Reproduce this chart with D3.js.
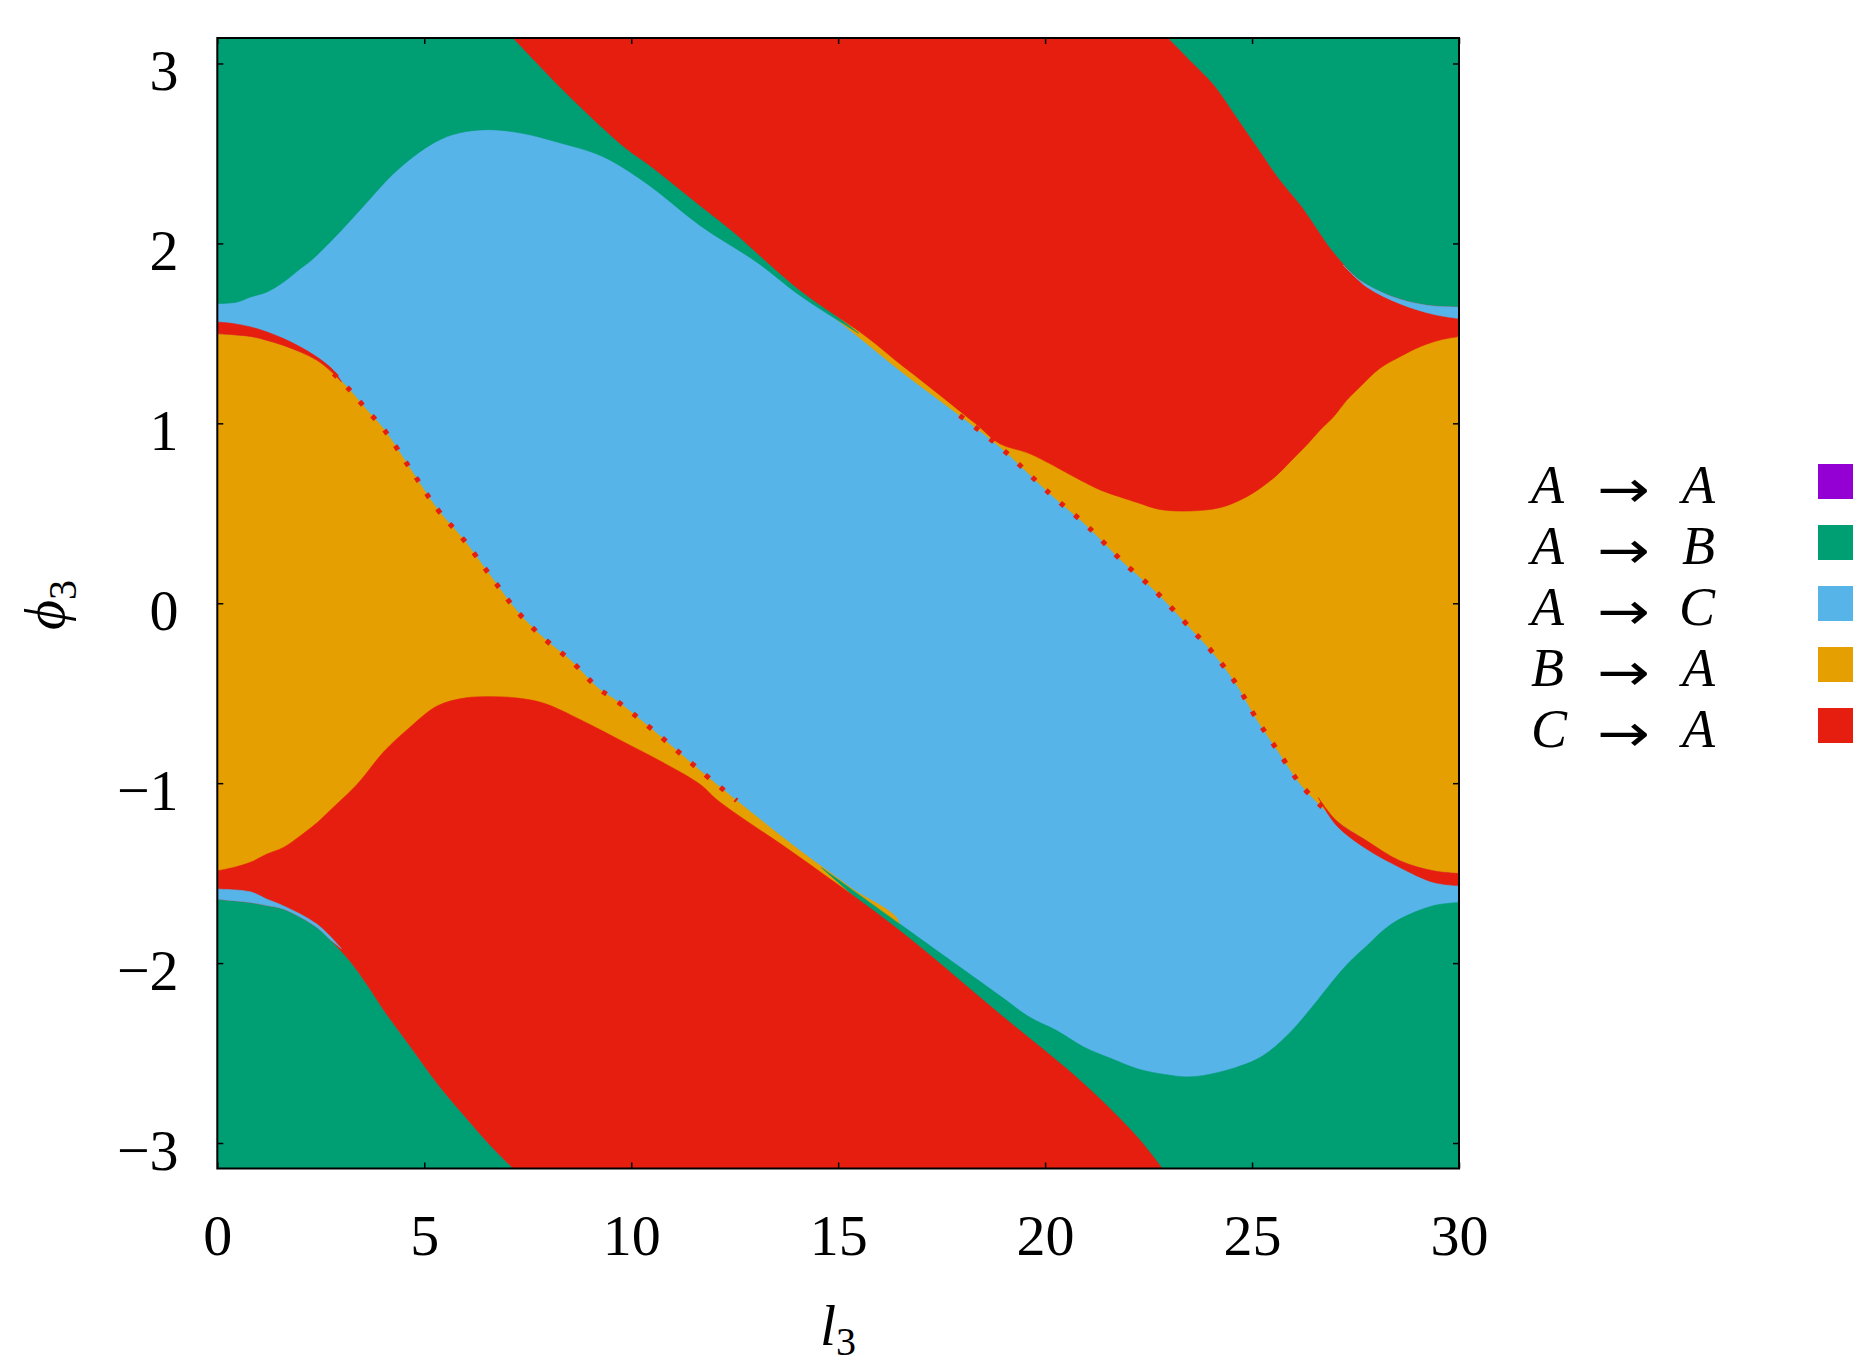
<!DOCTYPE html>
<html>
<head>
<meta charset="utf-8">
<script src="https://cdn.jsdelivr.net/npm/d3@7"></script>
<style>
  html, body { margin: 0; padding: 0; background: #ffffff; }
  svg { display: block; }
  text { font-family: "Liberation Serif", "DejaVu Serif", serif; fill: #000; }
</style>
</head>
<body>
<svg id="chart" width="1872" height="1372"></svg>
<script>
const PI = Math.PI;

// ---- tick values ----
const xTicks = [0, 5, 10, 15, 20, 25, 30];
const yTicks = [-3, -2, -1, 0, 1, 2, 3];

// ---- categories (legend) ----
const categoryFrom = ["A", "A", "A", "B", "C"];
const categoryTo   = ["A", "B", "C", "A", "A"];
const categoryColors = ["#9400D3", "#009E73", "#56B4E9", "#E69F00", "#E51E10"];

// ---- regions, as [l3, phi3] outlines ----
// A -> C : whole domain as the base layer
const regionAC = [[0, -PI], [30, -PI], [30, PI], [0, PI]];

// B -> A : left lobe
const regionBA_left = [
  [0, 1.498], [0.8, 1.483], [1.2, 1.461], [1.6, 1.433], [2.01, 1.396], [2.41, 1.35],
  [2.81, 1.276], [3.21, 1.183], [3.62, 1.072], [4.02, 0.968], [4.67, 0.745], [5.32, 0.522],
  [5.97, 0.348], [6.61, 0.149], [7.26, -0.049], [7.91, -0.199], [8.56, -0.323], [9.2, -0.472],
  [9.64, -0.541], [10.5, -0.70], [11.66, -0.929], [12.55, -1.097], [14.08, -1.375],
  [15.3, -1.58], [16.49, -1.80], [10, -2.5], [0, -1.55]
];

// B -> A : right lobe
const regionBA_right = [
  [30, -1.502], [29.38, -1.487], [28.57, -1.431], [27.77, -1.32], [27.04, -1.209],
  [26.69, -1.133], [26.17, -1.006], [25.64, -0.826], [25.12, -0.647], [24.6, -0.442],
  [24.01, -0.263], [23.55, -0.149], [22.63, 0.075], [21.85, 0.236], [21.33, 0.358],
  [20.93, 0.447], [20.12, 0.608], [18.91, 0.868], [17.9, 1.05], [16.49, 1.294],
  [15.6, 1.46], [14.3, 1.70], [16.5, 1.52], [22, 1.6], [30, 1.55]
];

// A -> B : four corners
const regionAB_TL = [
  [0, PI], [7.15, PI], [8.45, 2.85], [11.66, 2.23], [14.08, 1.76], [15.5, 1.5],
  [14.08, 1.71], [13.07, 1.89], [11.66, 2.10], [10.39, 2.33], [9.31, 2.483], [8.23, 2.562],
  [7.37, 2.612], [6.61, 2.632], [5.97, 2.62], [5.43, 2.582], [4.89, 2.508], [4.24, 2.384],
  [3.59, 2.222], [2.95, 2.061], [2.3, 1.912], [2.01, 1.86], [1.6, 1.785], [1.2, 1.73],
  [0.8, 1.702], [0.48, 1.674], [0, 1.665]
];
const regionAB_TR = [
  [22.96, PI], [30, PI], [30, 1.646], [29.22, 1.656], [28.41, 1.702], [27.61, 1.794],
  [26.92, 1.962], [26.69, 2.036], [26.17, 2.21], [25.64, 2.359], [25.12, 2.533],
  [24.6, 2.707], [24.07, 2.88], [23.55, 3.004]
];
const regionAB_BL = [
  [0, -PI], [7.15, -PI], [6.61, -3.016], [5.97, -2.849], [5.32, -2.67], [4.67, -2.465],
  [4.02, -2.26], [3.62, -2.12], [3.21, -1.99], [2.73, -1.87], [2.41, -1.802], [1.6, -1.70],
  [1.2, -1.68], [0.8, -1.663], [0, -1.645]
];
const regionAB_BR = [
  [22.83, -PI], [30, -PI], [30, -1.663], [29.38, -1.681], [28.57, -1.755], [28.16, -1.82],
  [27.77, -1.905], [27.37, -1.99], [27.04, -2.075], [26.43, -2.25], [25.91, -2.388],
  [25.25, -2.517], [24.6, -2.581], [23.55, -2.632], [22.89, -2.619], [22.24, -2.588],
  [21.58, -2.529], [20.93, -2.466], [20.28, -2.375], [19.62, -2.30], [18.91, -2.182],
  [16.49, -1.783], [14.6, -1.47]
];

// C -> A : upper and lower bands
const regionCA_top = [
  [7.15, PI], [22.96, PI], [23.55, 3.004], [24.07, 2.88], [24.6, 2.707], [25.12, 2.533],
  [25.64, 2.359], [26.17, 2.21], [26.69, 2.036], [26.92, 1.962], [27.61, 1.794],
  [28.41, 1.702], [29.22, 1.656], [30, 1.646], [30, 1.482], [29.54, 1.463], [29.06, 1.426],
  [28.57, 1.37], [28.09, 1.306], [27.61, 1.203], [27.29, 1.129], [26.97, 1.036],
  [26.64, 0.962], [26.32, 0.879], [26.0, 0.805], [25.6, 0.712], [25.19, 0.638],
  [24.79, 0.582], [24.24, 0.532], [23.52, 0.513], [22.78, 0.521], [22.24, 0.559],
  [21.33, 0.63], [20.93, 0.675], [19.62, 0.832], [18.91, 0.886], [18.31, 1.0], [17.0, 1.24],
  [16.49, 1.331], [15.69, 1.48], [14.08, 1.739], [12.42, 2.073], [11.66, 2.211],
  [10.45, 2.433], [9.85, 2.533], [8.45, 2.831]
];
const regionCA_bottom = [
  [7.15, -PI], [22.83, -PI], [22.24, -2.97], [20.93, -2.67], [18.91, -2.284], [16.49, -1.82],
  [14.08, -1.413], [12.10, -1.097], [11.66, -1.006], [10.71, -0.878], [9.85, -0.775],
  [8.77, -0.647], [7.91, -0.557], [7.26, -0.527], [6.61, -0.519], [5.97, -0.527],
  [5.32, -0.570], [4.67, -0.686], [4.02, -0.826], [3.38, -1.006], [2.73, -1.15],
  [2.41, -1.22], [2.01, -1.292], [1.6, -1.357], [1.2, -1.394], [0.8, -1.44], [0.4, -1.468],
  [0, -1.487], [0, -1.645], [0.8, -1.663], [1.2, -1.68], [1.6, -1.70], [2.41, -1.802],
  [2.73, -1.87], [3.21, -1.99], [3.62, -2.12], [4.02, -2.26], [4.67, -2.465], [5.32, -2.67],
  [5.97, -2.849], [6.61, -3.016]
];

// thin slivers near the side edges
const sliverAC_TR = [
  [27.2, 1.88], [27.61, 1.794], [28.41, 1.702], [29.22, 1.656], [30, 1.646],
  [30, 1.582], [29.38, 1.606], [28.57, 1.665], [27.77, 1.758]
];
const sliverAC_BL = [
  [0, -1.589], [0.8, -1.604], [1.2, -1.645], [1.6, -1.682], [2.41, -1.784], [3.0, -1.92],
  [2.73, -1.87], [2.41, -1.802], [1.6, -1.70], [1.2, -1.68], [0.8, -1.663], [0, -1.645]
];
const sliverCA_TL = [
  [0, 1.563], [0.4, 1.554], [0.8, 1.536], [1.2, 1.508], [1.6, 1.471], [2.01, 1.424],
  [2.41, 1.368], [2.81, 1.294], [3.0, 1.23], [2.81, 1.276], [2.41, 1.35], [2.01, 1.396],
  [1.6, 1.433], [1.2, 1.461], [0.8, 1.483], [0, 1.498]
];
const sliverCA_BR = [
  [26.6, -1.08], [27.04, -1.209], [27.77, -1.32], [28.57, -1.431], [29.38, -1.487],
  [30, -1.502], [30, -1.570], [29.38, -1.551], [28.57, -1.468], [27.77, -1.366], [27.04, -1.235]
];

// ---- drawing ----
const svg = d3.select("#chart");
svg.append("rect").attr("width", 1872).attr("height", 1372).attr("fill", "#fff");

const x = d3.scaleLinear().domain([0, 30]).range([217.3, 1459]);
const y = d3.scaleLinear().domain([-PI, PI]).range([1168.5, 38]);

svg.append("defs").append("clipPath").attr("id", "plotclip")
  .append("rect")
  .attr("x", x(0)).attr("y", y(PI))
  .attr("width", x(30) - x(0)).attr("height", y(-PI) - y(PI));

const plot = svg.append("g").attr("clip-path", "url(#plotclip)");
const curveGen = d3.line().curve(d3.curveCatmullRom.alpha(0.5));
const lineStraight = d3.line().x(d => x(d[0])).y(d => y(d[1]));

const cAA = categoryColors[0], cAB = categoryColors[1], cAC = categoryColors[2],
      cBA = categoryColors[3], cCA = categoryColors[4];

// outline: smooth between corners, straight along the frame
function outlinePath(pts) {
  const P = pts.map(d => [x(d[0]), y(d[1])]);
  const n = P.length;
  const onFrame = i => {
    const d = pts[i];
    return Math.abs(d[0]) < 1e-9 || Math.abs(d[0] - 30) < 1e-9 || Math.abs(Math.abs(d[1]) - PI) < 1e-9;
  };
  const sharp = i => {
    const a = P[(i - 1 + n) % n], b = P[i], c = P[(i + 1) % n];
    const v1 = [b[0] - a[0], b[1] - a[1]], v2 = [c[0] - b[0], c[1] - b[1]];
    const cs = (v1[0] * v2[0] + v1[1] * v2[1]) / (Math.hypot(v1[0], v1[1]) * Math.hypot(v2[0], v2[1]));
    return cs < -0.5;
  };
  const corner = i => onFrame(i) || sharp(i);
  let start = -1;
  for (let i = 0; i < n; i++) if (corner(i)) { start = i; break; }
  if (start < 0) return d3.line().curve(d3.curveCatmullRomClosed.alpha(0.5))(P);
  let d = `M${P[start][0]},${P[start][1]}`;
  let run = [P[start]];
  for (let k = 1; k <= n; k++) {
    const i = (start + k) % n;
    run.push(P[i]);
    if (corner(i)) {
      if (run.length === 2) d += `L${P[i][0]},${P[i][1]}`;
      else d += curveGen(run).replace(/^M[^LC]*/, "");
      run = [P[i]];
    }
  }
  return d + "Z";
}

function region(pts, color) {
  plot.append("path")
    .attr("d", outlinePath(pts))
    .attr("fill", color)
    .attr("stroke", color)
    .attr("stroke-width", 0.6)
    .attr("stroke-linejoin", "round");
}

plot.append("path").attr("d", lineStraight(regionAC) + "Z").attr("fill", cAC);
region(regionBA_left, cBA);
region(regionBA_right, cBA);
region(regionAB_TL, cAB);
region(regionAB_TR, cAB);
region(regionAB_BL, cAB);
region(regionAB_BR, cAB);
region(regionCA_top, cCA);
region(regionCA_bottom, cCA);
region(sliverAC_TR, cAC);
region(sliverAC_BL, cAC);
region(sliverCA_TL, cCA);
region(sliverCA_BR, cCA);

// speckled C->A cells along the B->A / A->C borders
const dottedLeft = regionBA_left.filter(d => d[0] >= 2.8 && d[0] <= 12.6 && d[1] > -1.2);
const dottedRight = regionBA_right.filter(d => d[0] >= 17.5 && d[0] <= 27 && d[1] < 1.2);
[dottedLeft, dottedRight].forEach(pts => {
  plot.append("path")
    .attr("d", curveGen(pts.map(d => [x(d[0]), y(d[1])])))
    .attr("fill", "none")
    .attr("stroke", cCA)
    .attr("stroke-width", 5)
    .attr("stroke-dasharray", "5 14");
});

// ---- axes ----
const fontSize = 58;
const axB = svg.append("g").attr("transform", `translate(0,${y(-PI)})`)
  .call(d3.axisBottom(x).tickValues(xTicks).tickSize(-6).tickFormat(d3.format("d")));
axB.select(".domain").remove();
axB.selectAll("text").attr("y", 66.5).attr("dy", "0.35em")
  .style("font-size", fontSize + "px").style("font-family", "'Liberation Serif', serif");

const axL = svg.append("g").attr("transform", `translate(${x(0)},0)`)
  .call(d3.axisLeft(y).tickValues(yTicks).tickSize(-6).tickFormat(d3.format("d")));
axL.select(".domain").remove();
axL.selectAll("text").attr("x", -38.7).attr("dy", "0.45em")
  .style("font-size", fontSize + "px").style("font-family", "'Liberation Serif', serif");

const axT = svg.append("g").attr("transform", `translate(0,${y(PI)})`)
  .call(d3.axisTop(x).tickValues(xTicks).tickSize(-6).tickFormat(""));
axT.select(".domain").remove();
const axR = svg.append("g").attr("transform", `translate(${x(30)},0)`)
  .call(d3.axisRight(y).tickValues(yTicks).tickSize(-6).tickFormat(""));
axR.select(".domain").remove();
svg.selectAll(".tick line").attr("stroke", "#000").attr("stroke-width", 1.5);

// frame
svg.append("rect")
  .attr("x", x(0)).attr("y", y(PI))
  .attr("width", x(30) - x(0)).attr("height", y(-PI) - y(PI))
  .attr("fill", "none").attr("stroke", "#000").attr("stroke-width", 2);

// axis titles
const yt = svg.append("text")
  .attr("transform", "translate(64,605) rotate(-90)")
  .attr("text-anchor", "middle")
  .style("font-size", fontSize + "px");
yt.append("tspan").style("font-style", "italic").text("\u03D5");
yt.append("tspan").attr("dy", "0.3em").style("font-size", "40px").text("3");

const xt = svg.append("text")
  .attr("x", 838).attr("y", 1345)
  .attr("text-anchor", "middle")
  .style("font-size", fontSize + "px");
xt.append("tspan").style("font-style", "italic").text("l");
xt.append("tspan").attr("dy", "0.25em").style("font-size", "40px").text("3");

// ---- legend ----
const legendSize = 54;
categoryFrom.forEach((from, i) => {
  const base = 503 + i * 61;
  svg.append("text").attr("x", 1531).attr("y", base)
    .style("font-size", legendSize + "px").style("font-style", "italic").text(from);
  svg.append("text").attr("x", 1597).attr("y", base + 4)
    .attr("textLength", 53).attr("lengthAdjust", "spacingAndGlyphs")
    .style("font-family", "'DejaVu Sans', sans-serif").style("font-size", "52px").text("\u2192");
  svg.append("text").attr("x", 1715).attr("y", base).attr("text-anchor", "end")
    .style("font-size", legendSize + "px").style("font-style", "italic").text(categoryTo[i]);
  svg.append("rect").attr("x", 1818).attr("y", 464 + i * 61)
    .attr("width", 35).attr("height", 35).attr("fill", categoryColors[i]);
});
</script>
</body>
</html>
